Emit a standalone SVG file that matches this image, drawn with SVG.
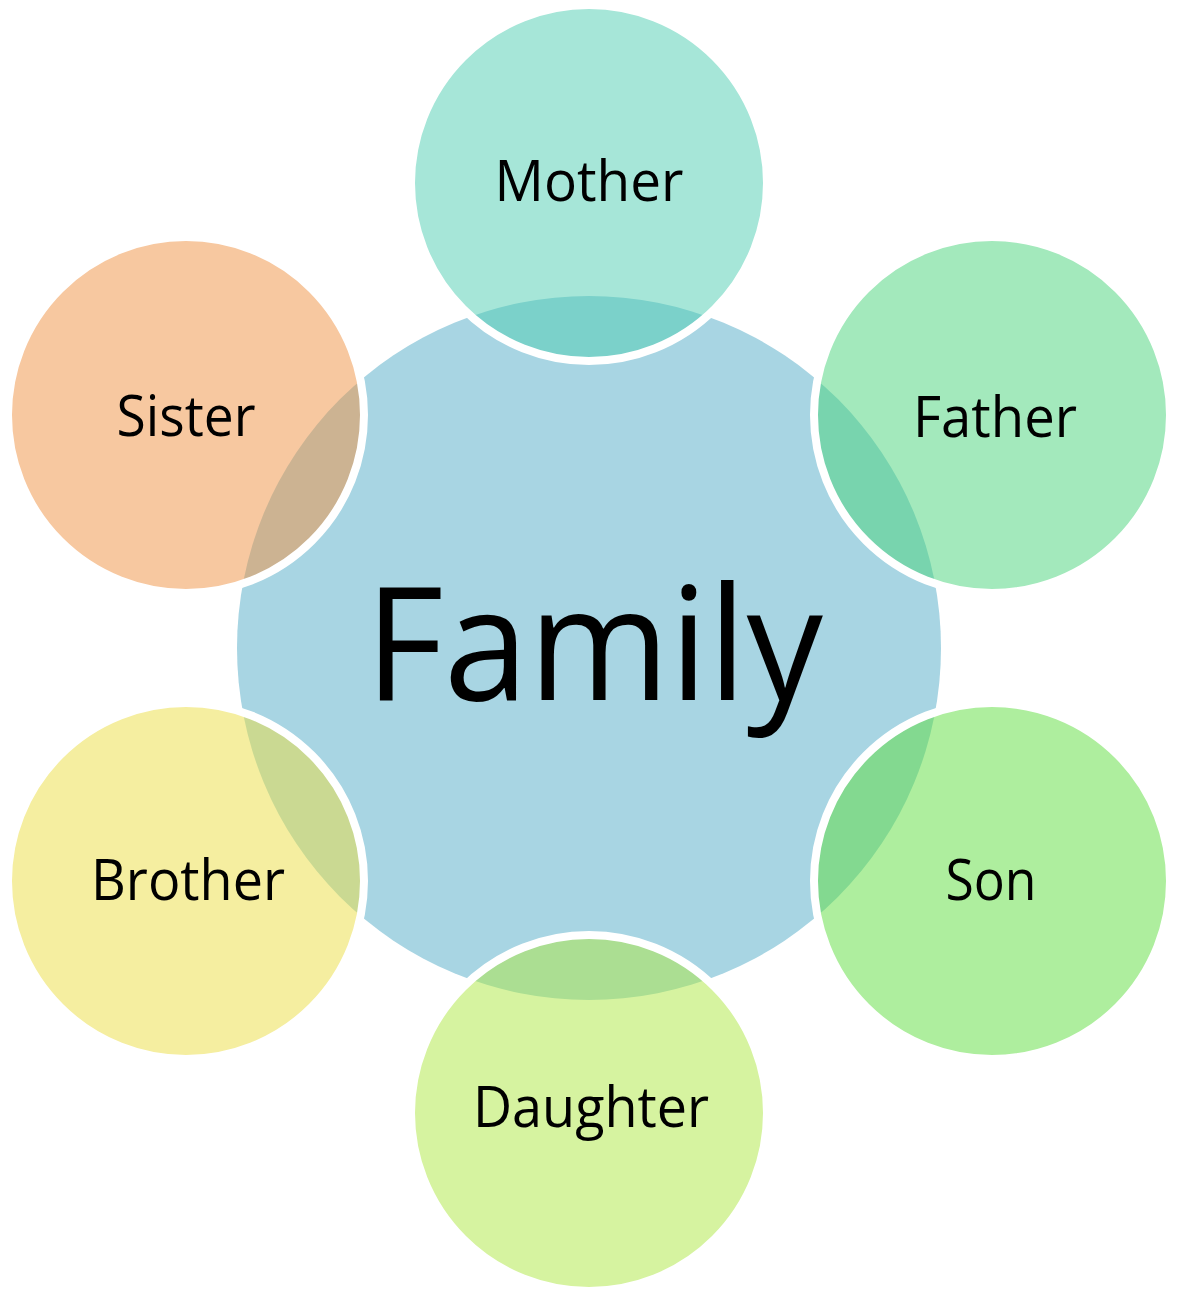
<svg xmlns="http://www.w3.org/2000/svg" width="1179" height="1300" viewBox="0 0 1179 1300">
<style>
.bg{fill:#ffffff}
.center{fill:#a8d5e3}
.outer{fill-opacity:0.5;stroke:#ffffff;stroke-width:8}
.lbl{font-family:"Open Sans","Noto Sans","DejaVu Sans",sans-serif;font-size:56px;fill:#000000;text-anchor:middle}
.big{font-family:"Open Sans","Noto Sans","DejaVu Sans",sans-serif;font-size:158px;fill:#000000;text-anchor:middle}
</style>
<rect class="bg" x="0" y="0" width="1179" height="1300"/>
<g id="connectors"></g>
<g id="family">
<circle class="center" cx="589" cy="648" r="352"/>
<text class="big" x="594" y="700" textLength="458" lengthAdjust="spacingAndGlyphs">Family</text>
</g>
<g id="mother">
<circle class="outer" cx="589" cy="183" r="178" fill="#4dcdb1"/>
<text class="lbl" x="589" y="201" textLength="189" lengthAdjust="spacingAndGlyphs">Mother</text>
</g>
<g id="father">
<circle class="outer" cx="992" cy="415" r="178" fill="#47d379"/>
<text class="lbl" x="995" y="437" textLength="164" lengthAdjust="spacingAndGlyphs">Father</text>
</g>
<g id="son">
<circle class="outer" cx="992" cy="881" r="178" fill="#5ddd3d"/>
<text class="lbl" x="991" y="900" textLength="91" lengthAdjust="spacingAndGlyphs">Son</text>
</g>
<g id="daughter">
<circle class="outer" cx="589" cy="1113" r="178" fill="#ade741"/>
<text class="lbl" x="591" y="1127" textLength="236" lengthAdjust="spacingAndGlyphs">Daughter</text>
</g>
<g id="brother">
<circle class="outer" cx="186" cy="881" r="178" fill="#ebdd41"/>
<text class="lbl" x="188" y="900" textLength="194" lengthAdjust="spacingAndGlyphs">Brother</text>
</g>
<g id="sister">
<circle class="outer" cx="186" cy="415" r="178" fill="#ef9141"/>
<text class="lbl" x="186" y="436" textLength="139" lengthAdjust="spacingAndGlyphs">Sister</text>
</g>
</svg>
